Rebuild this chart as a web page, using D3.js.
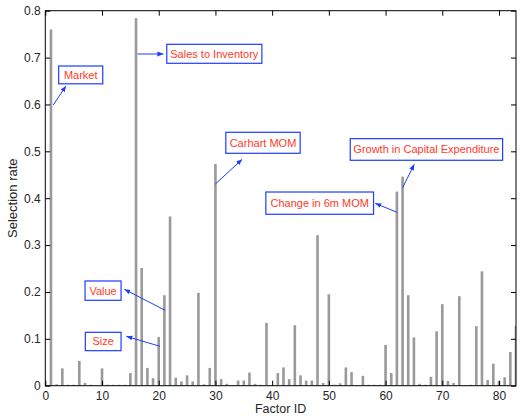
<!DOCTYPE html>
<html><head><meta charset="utf-8">
<script src="https://cdn.jsdelivr.net/npm/d3@7"></script>
<style>body{margin:0;background:#fff;} text{font-family:"Liberation Sans",Arial,Helvetica,sans-serif;}</style>
</head><body><svg id="c" width="521" height="416"></svg>
<script>
// Selection rate per factor ID (1..83)
const factorIds = d3.range(1, 84);
const selectionRate = [
 0.760,0.003,0.037,0.002,0.002,0.053,0.006,0.002,0.001,0.037,
 0.002,0.002,0.002,0.002,0.027,0.784,0.251,0.038,0.016,0.104,
 0.193,0.361,0.017,0.009,0.022,0.009,0.198,0.003,0.038,0.473,
 0.014,0.004,0.001,0.011,0.011,0.028,0.004,0.002,0.134,0.001,
 0.027,0.039,0.014,0.129,0.022,0.011,0.011,0.321,0.006,0.195,
 0.002,0.005,0.039,0.029,0.001,0.021,0.002,0.002,0.002,0.087,
 0.027,0.414,0.446,0.193,0.103,0.004,0.002,0.019,0.116,0.174,
 0.010,0.006,0.191,0.001,0.002,0.127,0.244,0.012,0.047,0.010,
 0.018,0.072,0.128
];
const xTicks = [0,10,20,30,40,50,60,70,80];
const yTicks = [0,0.1,0.2,0.3,0.4,0.5,0.6,0.7,0.8];
const xLabel = "Factor ID";
const yLabel = "Selection rate";
// annotations: label, box [x0,x1,yTop,yBottom] and arrow [x0,y0,x1,y1] in data units
const annLabels = ["Market","Sales to Inventory","Carhart MOM","Growth in Capital Expenditure","Change in 6m MOM","Value","Size"];
const annBoxes = [
 [2.36,10.13,0.682,0.644],
 [21.42,38.19,0.7283,0.6878],
 [31.83,44.94,0.5406,0.4958],
 [53.77,80.64,0.527,0.4809],
 [38.89,57.88,0.4132,0.3657],
 [7.01,13.36,0.2234,0.1822],
 [7.06,13.36,0.1139,0.0747]
];
const annArrows = [
 [1.41,0.599,3.65,0.6395],
 [16.25,0.7076,20.82,0.7076],
 [30,0.4303,34.71,0.483],
 [63,0.4224,65.06,0.4723],
 [62,0.370,58.18,0.389],
 [21.12,0.1609,13.94,0.2057],
 [20.19,0.0841,14.29,0.1054]
];

const svg = d3.select("#c");
const L=45.3, R=516, T=10.7, B=385.7;
const x = d3.scaleLinear().domain([0,83]).range([L,R]);
const y = d3.scaleLinear().domain([0,0.8]).range([B,T]);
const barW = (x(1)-x(0))*0.46;

svg.append("defs").append("clipPath").attr("id","clip").append("rect")
  .attr("x",L).attr("y",T).attr("width",R-L).attr("height",B-T);

svg.append("g").attr("clip-path","url(#clip)").selectAll("rect").data(selectionRate).enter().append("rect")
  .attr("x",(d,i)=>x(factorIds[i])-barW/2).attr("width",barW)
  .attr("y",d=>y(d)).attr("height",d=>B-y(d))
  .attr("fill","#9a9a9a");

const tickLen=5, tc="#262626";
// axes with inward ticks
svg.append("g").attr("transform",`translate(0,${B})`)
  .call(d3.axisBottom(x).tickValues(xTicks).tickSize(-tickLen).tickPadding(5.5).tickFormat(d3.format("d")))
  .call(g=>{g.select(".domain").remove();g.selectAll("line").attr("stroke","#000");g.selectAll("text").attr("fill",tc).attr("font-size",12).attr("font-family","Liberation Sans, Arial, sans-serif");});
svg.append("g").attr("transform",`translate(0,${T})`)
  .call(d3.axisTop(x).tickValues(xTicks).tickSize(-tickLen).tickFormat(""))
  .call(g=>{g.select(".domain").remove();g.selectAll("line").attr("stroke","#000");});
svg.append("g").attr("transform",`translate(${L},0)`)
  .call(d3.axisLeft(y).tickValues(yTicks).tickSize(-tickLen).tickPadding(4.5).tickFormat(d=>d===0?"0":d3.format(".1f")(d)))
  .call(g=>{g.select(".domain").remove();g.selectAll("line").attr("stroke","#000");g.selectAll("text").attr("fill",tc).attr("font-size",12).attr("font-family","Liberation Sans, Arial, sans-serif");});
svg.append("g").attr("transform",`translate(${R},0)`)
  .call(d3.axisRight(y).tickValues(yTicks).tickSize(-tickLen).tickFormat(""))
  .call(g=>{g.select(".domain").remove();g.selectAll("line").attr("stroke","#000");});
svg.append("rect").attr("x",L).attr("y",T).attr("width",R-L).attr("height",B-T)
  .attr("fill","none").attr("stroke","#000").attr("stroke-width",1);

svg.append("text").attr("x",(L+R)/2).attr("y",413.3).attr("text-anchor","middle")
  .attr("font-size",12.5).attr("fill",tc).text(xLabel);
svg.append("text").attr("transform",`translate(17,${(T+B)/2}) rotate(-90)`).attr("text-anchor","middle")
  .attr("font-size",13).attr("fill",tc).text(yLabel);

// annotations
const blue="#1e3cff", red="#ff3a28";
svg.append("defs").append("marker").attr("id","ah").attr("viewBox","0 0 10 10")
  .attr("refX",10).attr("refY",5).attr("markerWidth",6).attr("markerHeight",6)
  .attr("markerUnits","userSpaceOnUse").attr("orient","auto")
  .append("path").attr("d","M0,1 L10,5 L0,9 Z").attr("fill",blue);
annLabels.forEach((lab,i)=>{
  const a=annArrows[i], b=annBoxes[i];
  svg.append("line").attr("x1",x(a[0])).attr("y1",y(a[1])).attr("x2",x(a[2])).attr("y2",y(a[3]))
    .attr("stroke",blue).attr("stroke-width",1).attr("marker-end","url(#ah)");
  svg.append("rect").attr("x",x(b[0])).attr("y",y(b[2])).attr("width",x(b[1])-x(b[0])).attr("height",y(b[3])-y(b[2]))
    .attr("fill","#fff").attr("stroke",blue).attr("stroke-width",1.2);
  svg.append("text").attr("x",(x(b[0])+x(b[1]))/2).attr("y",(y(b[2])+y(b[3]))/2).attr("dy","0.36em")
    .attr("text-anchor","middle").attr("font-size",11).attr("fill",red).text(lab);
});
</script></body></html>
